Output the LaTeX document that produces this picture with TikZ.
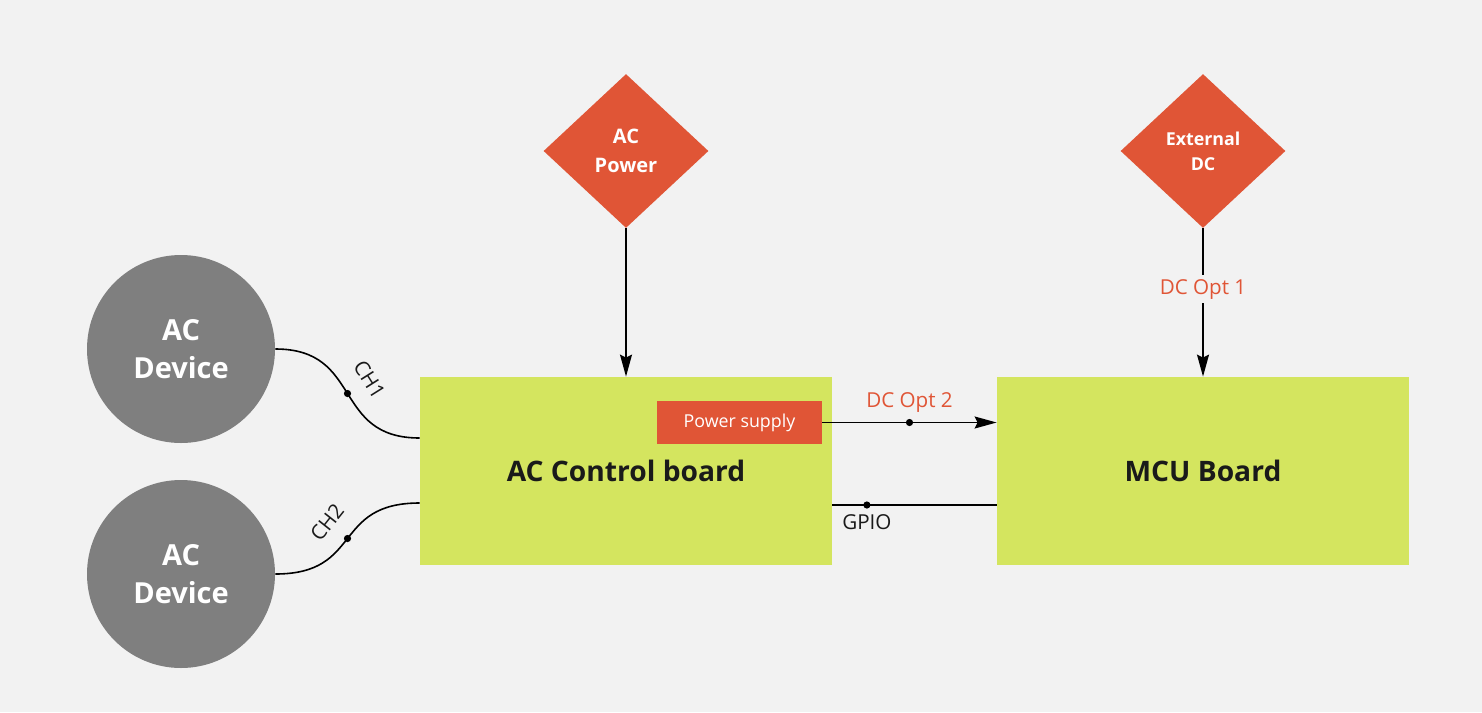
\documentclass[tikz,border=0pt]{standalone}
\usepackage{fontspec}
\setmainfont{Open Sans}
\usetikzlibrary{arrows.meta,positioning,shapes.geometric}
\definecolor{bg}{HTML}{F2F2F2}
\definecolor{board}{HTML}{D4E55F}
\definecolor{pwr}{HTML}{E05536}
\definecolor{dev}{HTML}{7F7F7F}
\definecolor{ink}{HTML}{1A1A1A}

\begin{document}
\begin{tikzpicture}[x=0.5pt,y=-0.5pt,
  boardbox/.style={fill=board, minimum width=206pt, minimum height=94pt, inner sep=0pt, text=ink, font=\bfseries\fontsize{14.1}{16}\selectfont},
  source/.style={diamond, fill=pwr, text=white, minimum width=82.5pt, minimum height=77pt, inner sep=0pt, align=center},
  device/.style={circle, fill=dev, text=white, minimum size=94pt, inner sep=0pt, align=center, font=\bfseries\fontsize{14.5}{19}\selectfont},
  wire/.style={draw=black, line width=0.8pt},
  arr/.style={wire, -{Stealth[length=11pt, width=6pt, inset=1.5pt]}},
  dot/.style={circle, fill=black, minimum size=3.6pt, inner sep=0pt},
  optlbl/.style={text=pwr, font=\fontsize{10.3}{12}\selectfont},
  chlbl/.style={text=ink, font=\fontsize{10.3}{12}\selectfont}]

% canvas
\fill[bg] (0,0) rectangle (1482,712);

% power sources
\node[source, font=\bfseries\fontsize{10}{14.5}\selectfont] (acp) at (626,151) {AC\\Power};
\node[source, font=\bfseries\fontsize{8.9}{12.5}\selectfont] (extdc) at (1203,151) {External\\DC};

% boards
\node[boardbox] (acb) at (626,471) {AC Control board};
\node[boardbox] (mcu) at (1203,471) {MCU Board};
\node[fill=pwr, text=white, minimum width=82.5pt, minimum height=21.5pt, inner sep=0pt,
      font=\fontsize{8.9}{10}\selectfont, anchor=north east]
  (psu) at ([xshift=-5pt,yshift=-12pt]acb.north east) {Power supply};

% devices
\node[device] (devA) at (181,349) {AC\\Device};
\node[device] (devB) at (181,574) {AC\\Device};

% power feeds
\draw[arr] (acp) -- (acb);
\draw[arr] (extdc) -- node[pos=0.41, fill=bg, inner sep=2pt, optlbl] {DC Opt 1} (mcu);
\draw[arr] (psu.east) -- node[dot] {} node[above=1.5pt, optlbl] {DC Opt 2} (psu.east -| mcu.west);

% gpio
\draw[wire] ([yshift=-17pt]acb.east) -- node[pos=0.21, dot] {} node[pos=0.21, below=1pt, chlbl] {GPIO} ([yshift=-17pt]mcu.west);

% channels
\draw[wire] (devA.east) .. controls +(88,0) and +(-88,0) .. ([yshift=16.5pt]acb.west)
  node[pos=0.5, dot] {} node[pos=0.5, sloped, above=5.5pt, chlbl] {CH1};
\draw[wire] (devB.east) .. controls +(88,0) and +(-88,0) .. ([yshift=-16pt]acb.west)
  node[pos=0.5, dot] {} node[pos=0.5, sloped, above=5.5pt, chlbl] {CH2};
\end{tikzpicture}
\end{document}
